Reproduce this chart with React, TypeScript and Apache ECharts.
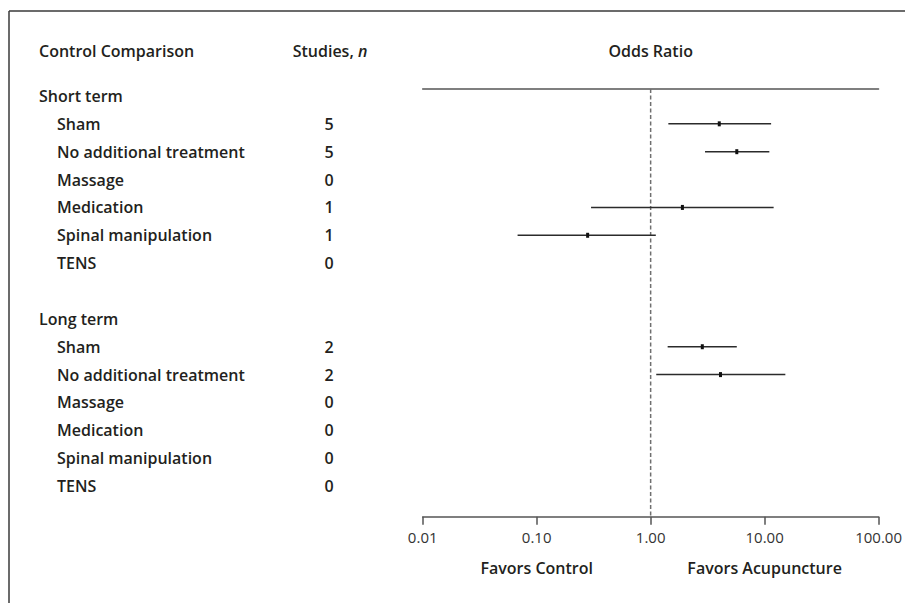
import React, { useEffect, useRef } from "react";
import * as echarts from "echarts";

// ---------- data ----------
const headers = ["Control Comparison", "Studies, n", "Odds Ratio"];
const groups = ["Short term", "Long term"];
const comparisons = [
  "Sham",
  "No additional treatment",
  "Massage",
  "Medication",
  "Spinal manipulation",
  "TENS",
];
const shortStudies = [5, 5, 0, 1, 1, 0];
const longStudies = [2, 2, 0, 0, 0, 0];
const shortOR = [4.0, 5.7, null, 1.9, 0.28, null];
const shortLow = [1.43, 3.0, null, 0.3, 0.068, null];
const shortHigh = [11.4, 11.0, null, 12.0, 1.11, null];
const longOR = [2.84, 4.1, null, null, null, null];
const longLow = [1.41, 1.12, null, null, null, null];
const longHigh = [5.7, 15.2, null, null, null, null];
const favorLabels = ["Favors Control", "Favors Acupuncture"];
const referenceOR = 1;

// ---------- build rows ----------
type Row = { kind: "group" | "item" | "blank"; label: string; n?: number };
const rows: Row[] = [];
const forest: number[][] = [];
const addGroup = (
  g: string,
  studies: number[],
  ors: (number | null)[],
  lows: (number | null)[],
  highs: (number | null)[]
) => {
  rows.push({ kind: "group", label: g });
  comparisons.forEach((c, k) => {
    const idx = rows.length;
    rows.push({ kind: "item", label: c, n: studies[k] });
    if (ors[k] != null && lows[k] != null && highs[k] != null) {
      forest.push([lows[k] as number, highs[k] as number, ors[k] as number, idx]);
    }
  });
};
addGroup(groups[0], shortStudies, shortOR, shortLow, shortHigh);
rows.push({ kind: "blank", label: "" });
addGroup(groups[1], longStudies, longOR, longLow, longHigh);

const FONT = "'Open Sans', 'DejaVu Sans', sans-serif";
const TXT = "#231f20";
const FS = 16;
const Y_MIN = -0.25;
const Y_MAX = 15.1;
const HEADER_ROW = -1.63;

export default function App() {
  const ref = useRef<HTMLDivElement>(null);
  useEffect(() => {
    document.body.style.margin = "0";
    if (!ref.current) return;
    const chart = echarts.init(ref.current, undefined, { renderer: "svg" });

    const boldFont = `600 ${FS}px ${FONT}`;

    const tableSeries = {
      type: "custom",
      xAxisIndex: 3,
      yAxisIndex: 0,
      clip: false,
      data: rows.map((_, i) => [0, i]),
      encode: { x: 0, y: 1 },
      renderItem: (params: any, api: any) => {
        const r = rows[params.dataIndex];
        const i = api.value(1);
        const children: any[] = [];
        if (params.dataIndex === 0) {
          const h1 = api.coord([39, HEADER_ROW]);
          const h2 = api.coord([330, HEADER_ROW]);
          children.push({
            type: "text",
            x: h1[0],
            y: h1[1],
            style: {
              text: headers[0],
              font: boldFont,
              fill: TXT,
              textAlign: "left",
              textVerticalAlign: "middle",
            },
          });
          const parts = headers[1].split(", ");
          children.push({
            type: "text",
            x: h2[0],
            y: h2[1],
            style: {
              text: `{a|${parts[0]}, }{b|${parts[1]}}`,
              rich: {
                a: { fontFamily: FONT, fontSize: FS, fontWeight: 600, fill: TXT, color: TXT },
                b: {
                  fontFamily: FONT,
                  fontSize: FS,
                  fontWeight: 600,
                  fontStyle: "italic",
                  fill: TXT,
                  color: TXT,
                },
              },
              textAlign: "center",
              textVerticalAlign: "middle",
            },
          });
        }
        if (r.kind === "blank") return { type: "group", children };
        const xName = r.kind === "group" ? 39 : 57;
        const p = api.coord([xName, i]);
        children.push({
          type: "text",
          x: p[0],
          y: p[1],
          style: {
            text: r.label,
            font: boldFont,
            fill: TXT,
            textAlign: "left",
            textVerticalAlign: "middle",
          },
        });
        if (r.kind === "item") {
          const q = api.coord([329, i]);
          children.push({
            type: "text",
            x: q[0],
            y: q[1],
            style: {
              text: String(r.n),
              font: boldFont,
              fill: TXT,
              textAlign: "center",
              textVerticalAlign: "middle",
            },
          });
        }
        return { type: "group", children };
      },
    };

    const forestSeries = {
      type: "custom",
      xAxisIndex: 0,
      yAxisIndex: 1,
      data: forest,
      encode: { x: [0, 1, 2], y: 3 },
      z: 3,
      renderItem: (params: any, api: any) => {
        const lo = api.coord([api.value(0), api.value(3)]);
        const hi = api.coord([api.value(1), api.value(3)]);
        const c = api.coord([api.value(2), api.value(3)]);
        return {
          type: "group",
          children: [
            {
              type: "line",
              shape: { x1: lo[0], y1: lo[1], x2: hi[0], y2: hi[1] },
              style: { stroke: "#2b2b2b", lineWidth: 1.5 },
            },
            {
              type: "rect",
              shape: { x: c[0] - 1.5, y: c[1] - 2.5, width: 3, height: 5 },
              style: { fill: "#111" },
            },
          ],
        };
      },
    };

    const refLine = {
      type: "line",
      xAxisIndex: 0,
      yAxisIndex: 1,
      data: [
        [referenceOR, Y_MIN],
        [referenceOR, Y_MAX],
      ],
      symbol: "none",
      silent: true,
      lineStyle: { color: "#6f6f6f", width: 1.5, type: [4, 2.5] },
      z: 1,
    };

    chart.setOption({
      animation: false,
      textStyle: { fontFamily: FONT },
      grid: [
        { left: 0, width: 400, top: 89, bottom: 86.3 },
        { left: 422.7, right: 23.3, top: 89, bottom: 86.3 },
      ],
      xAxis: [
        {
          type: "log",
          gridIndex: 1,
          logBase: 10,
          min: 0.01,
          max: 100,
          position: "bottom",
          axisLine: { show: true, onZero: false, lineStyle: { color: "#555", width: 1.5 } },
          axisTick: { show: true, length: 8, lineStyle: { color: "#555", width: 1.5 } },
          minorTick: { show: false },
          splitLine: { show: false },
          axisLabel: {
            show: true,
            margin: 13,
            fontSize: 15,
            fontFamily: FONT,
            color: "#333",
            showMinLabel: true,
            showMaxLabel: true,
            formatter: (v: number) => Number(v).toFixed(2),
          },
        },
        {
          type: "log",
          gridIndex: 1,
          logBase: 10,
          min: 0.01,
          max: 100,
          position: "top",
          axisLine: { show: true, onZero: false, lineStyle: { color: "#555", width: 1.5 } },
          axisTick: { show: false },
          axisLabel: { show: false },
          splitLine: { show: false },
          name: headers[2],
          nameLocation: "middle",
          nameGap: 30,
          nameTextStyle: { fontFamily: FONT, fontSize: FS, fontWeight: 600, color: TXT },
        },
        {
          type: "category",
          gridIndex: 1,
          position: "bottom",
          data: favorLabels,
          axisLine: { show: false, onZero: false },
          axisTick: { show: false },
          splitLine: { show: false },
          axisLabel: {
            margin: 43,
            fontSize: FS,
            fontWeight: 600,
            fontFamily: FONT,
            color: TXT,
          },
        },
        {
          type: "value",
          gridIndex: 0,
          min: 0,
          max: 400,
          show: false,
          axisLine: { onZero: false },
        },
      ],
      yAxis: [
        {
          type: "value",
          gridIndex: 0,
          inverse: true,
          min: Y_MIN,
          max: Y_MAX,
          show: false,
          axisLine: { onZero: false },
        },
        {
          type: "value",
          gridIndex: 1,
          inverse: true,
          min: Y_MIN,
          max: Y_MAX,
          show: false,
          axisLine: { onZero: false },
        },
      ],
      graphic: [
        {
          type: "line",
          shape: { x1: 9, y1: 11, x2: 905, y2: 11 },
          style: { stroke: "#3a3a3a", lineWidth: 1.5 },
          silent: true,
        },
        {
          type: "line",
          shape: { x1: 9, y1: 11, x2: 9, y2: 603 },
          style: { stroke: "#3a3a3a", lineWidth: 1.5 },
          silent: true,
        },
      ],
      series: [refLine, forestSeries, tableSeries],
    });
    return () => chart.dispose();
  }, []);
  return <div ref={ref} style={{ width: 905, height: 603 }} />;
}
